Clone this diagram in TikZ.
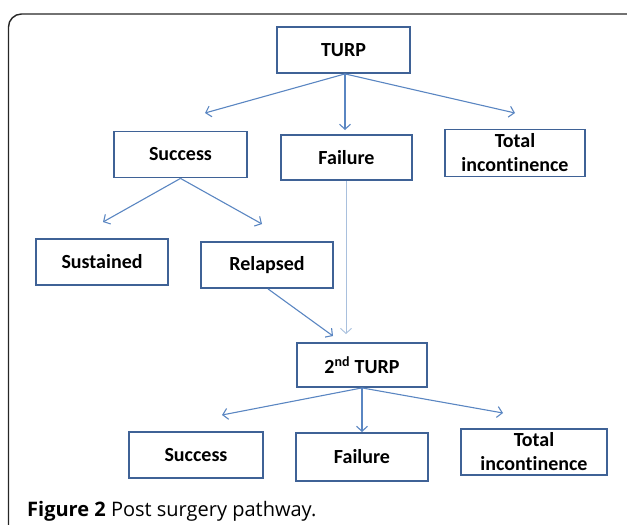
\documentclass[tikz,border=0pt]{standalone}
\usepackage{fontspec}
\setmainfont[Ligatures={NoCommon}]{Carlito}
\newfontfamily\capfont{Open Sans}
\usetikzlibrary{arrows.meta}
\definecolor{boxblue}{HTML}{3F6296}
\definecolor{arrblue}{HTML}{5A86C2}
\definecolor{lightblue}{HTML}{A9C0DD}
\begin{document}
\begin{tikzpicture}[x=1pt,y=-1pt,
  box/.style={draw=boxblue, line width=1.8pt, fill=white, align=center, inner sep=0pt,
    font=\fontsize{20}{24}\selectfont\bfseries},
  arr/.style={draw=arrblue, line width=1.1pt, -{Straight Barb[length=5pt,width=11pt]}},
  thinarr/.style={draw=lightblue, line width=0.9pt, -{Straight Barb[length=5pt,width=11pt]}},
]
\useasboundingbox (0,0) rectangle (627,525);
\draw[line width=1.4pt, rounded corners=13pt, black!85] (8.5,14) rectangle (680,580);

\node[box, minimum width=133pt, minimum height=46pt] (turp) at (343.5,50) {TURP};
\node[box, minimum width=133pt, minimum height=46pt] (succ1) at (180.5,154.5) {Success};
\node[box, minimum width=131pt, minimum height=45pt] (fail1) at (346.5,157.5) {Failure};
\node[box, minimum width=140pt, minimum height=47pt] (tot1) at (515,153) {Total\\incontinence};
\node[box, minimum width=132pt, minimum height=46pt] (sust) at (102,262) {Sustained};
\node[box, minimum width=132pt, minimum height=46pt] (rel) at (267,265) {Relapsed};
\node[box, minimum width=130pt, minimum height=44pt] (turp2) at (362,365) {2\textsuperscript{nd} TURP};
\node[box, minimum width=134pt, minimum height=46pt] (succ2) at (196,455) {Success};
\node[box, minimum width=132pt, minimum height=48pt] (fail2) at (362,457) {Failure};
\node[box, minimum width=146pt, minimum height=46pt] (tot2) at (534,452) {Total\\incontinence};

\coordinate (a1) at (205,113);
\coordinate (a2) at (345,130);
\coordinate (a3) at (515,113);
\coordinate (b1) at (103,222);
\coordinate (b2) at (262,224);
\coordinate (c1) at (333,336);
\coordinate (c2) at (346,334);
\coordinate (d1) at (222,415);
\coordinate (d2) at (362,432);
\coordinate (d3) at (503,413);

\draw[arr] ([xshift=1.5pt]turp.south) -- (a1);
\draw[arr] ([xshift=1.5pt]turp.south) -- (a2);
\draw[arr] ([xshift=1.5pt]turp.south) -- (a3);
\draw[arr] (succ1.south) -- (b1);
\draw[arr] (succ1.south) -- (b2);
\draw[arr] ([xshift=1pt]rel.south) -- (c1);
\draw[thinarr] ([xshift=-0.5pt]fail1.south) -- (c2);
\draw[arr] (turp2.south) -- (d1);
\draw[arr] (turp2.south) -- (d2);
\draw[arr] (turp2.south) -- (d3);

\node[anchor=base west, inner sep=0pt, font=\capfont\fontsize{20}{24}\selectfont] (cap) at (27,516)
  {\textbf{Figure 2} Post surgery pathway.};
\end{tikzpicture}
\end{document}
